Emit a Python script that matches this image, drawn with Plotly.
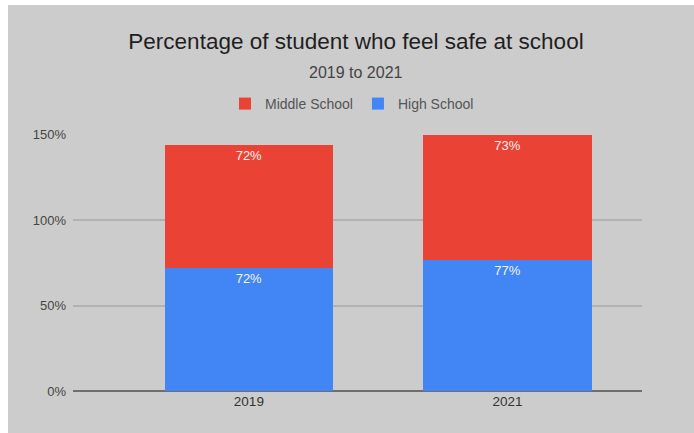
import plotly.graph_objects as go

# Survey results: share of students who feel safe at school
years = ["2019", "2021"]
middle_school = [72, 73]
high_school = [72, 77]
series_names = ["Middle School", "High School"]
series_colors = ["#ea4335", "#4285f4"]
y_ticks = [0, 50, 100, 150]
y_tick_labels = ["0%", "50%", "100%", "150%"]

W, H = 694, 433
ML, MR, MT, MB = 73, 52, 134, 42
PW, PH = W - ML - MR, H - MT - MB
FONT = "Liberation Sans, Arial, sans-serif"


def px_to_paper_x(px):
    return (px - ML) / PW


def px_to_paper_y(py):
    return (H - MB - py) / PH


fig = go.Figure()

# High school stacks at the bottom, middle school on top
fig.add_trace(go.Bar(
    x=years, y=high_school, name=series_names[1],
    marker=dict(color=series_colors[1], line=dict(width=0)),
    text=[f"{v}%" for v in high_school], textposition="inside",
    insidetextanchor="end", textangle=0,
    textfont=dict(family=FONT, size=13, color="#f4f4f4"),
    width=0.65, legendrank=2,
))
fig.add_trace(go.Bar(
    x=years, y=middle_school, name=series_names[0],
    marker=dict(color=series_colors[0], line=dict(width=0)),
    text=[f"{v}%" for v in middle_school], textposition="inside",
    insidetextanchor="end", textangle=0,
    textfont=dict(family=FONT, size=13, color="#f4f4f4"),
    width=0.65, legendrank=1,
))

# Grey card behind the chart, leaving a thin white strip on the top and left
fig.add_shape(
    type="rect", xref="paper", yref="paper", layer="below",
    x0=px_to_paper_x(8), x1=px_to_paper_x(W + 30),
    y0=px_to_paper_y(H + 30), y1=px_to_paper_y(5),
    fillcolor="#cccccc", line=dict(width=0),
)

fig.add_annotation(
    text="2019 to 2021", xref="paper", yref="paper",
    x=px_to_paper_x(356), y=px_to_paper_y(73),
    xanchor="center", yanchor="middle", showarrow=False,
    font=dict(family=FONT, size=16, color="#444444"),
)

fig.update_layout(
    width=W, height=H,
    margin=dict(l=ML, r=MR, t=MT, b=MB, pad=0),
    paper_bgcolor="white",
    plot_bgcolor="rgba(0,0,0,0)",
    barmode="stack",
    title=dict(
        text="Percentage of student who feel safe at school",
        x=356 / W, xanchor="center", y=1 - 41 / H, yanchor="middle",
        font=dict(family=FONT, size=22.5, color="#1f1f1f"),
    ),
    legend=dict(
        orientation="h", x=px_to_paper_x(352), xanchor="center",
        y=px_to_paper_y(104), yanchor="middle",
        font=dict(family=FONT, size=14, color="#555555"),
        bgcolor="rgba(0,0,0,0)", traceorder="normal",
        itemwidth=30,
    ),
    xaxis=dict(
        type="category", range=[-0.68, 1.52],
        showgrid=False, showline=False, zeroline=False, ticks="",
        tickfont=dict(family=FONT, size=13.5, color="#333333"),
    ),
    yaxis=dict(
        range=[0, 150.5], tickmode="array",
        tickvals=y_ticks, ticktext=y_tick_labels,
        showgrid=True, gridcolor="#b2b2b2", gridwidth=2,
        zeroline=True, zerolinecolor="#6e6e6e", zerolinewidth=2,
        showline=False, ticks="", ticklabelstandoff=6,
        tickfont=dict(family=FONT, size=13, color="#444444"),
    ),
    showlegend=True,
    uniformtext=dict(minsize=8, mode="show"),
)

fig.write_html("out.html")
